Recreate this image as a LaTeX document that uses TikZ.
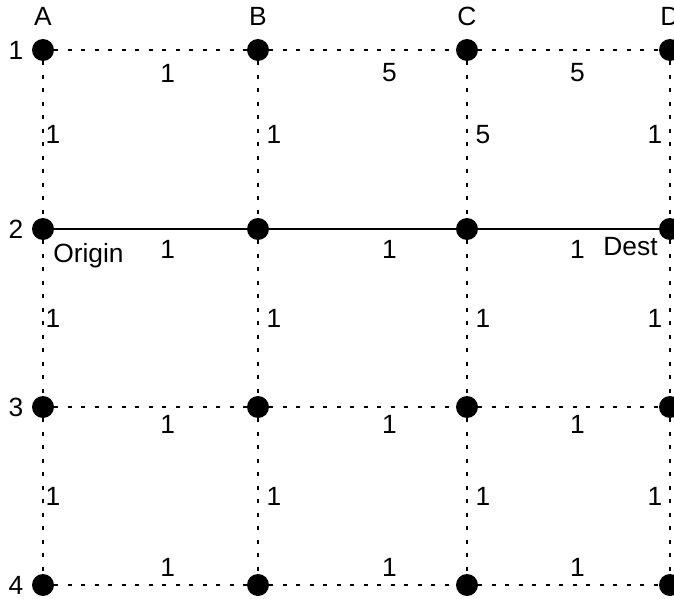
\documentclass[tikz,border=0pt]{standalone}
\usepackage{fontspec}
\setmainfont{Liberation Sans}
\usetikzlibrary{positioning}

\begin{document}
\begin{tikzpicture}[
        x=0.02cm, y=-0.02cm,
        dot/.style={circle, fill=black, inner sep=0pt, minimum size=0.44cm},
        lbl/.style={font=\fontsize{15}{17}\selectfont, inner sep=0pt},
        gridline/.style={line width=1.4pt, dash pattern=on 0.08cm off 0.19cm},
        route/.style={line width=1.3pt}
    ]
        \useasboundingbox (0,0) rectangle (674,599);
        % grid points
        \foreach \c/\x in {A/43, B/258, C/467, D/670}
            \foreach \r/\y in {1/50, 2/229, 3/407, 4/585}
                \node[dot] (\c\r) at (\x,\y) {};
        \foreach \c in {A, B, C, D}
            \node[lbl, above=0.26cm of \c1] (col\c) {\c};
        \foreach \r in {1, 2, 3, 4}
            \node[lbl, left=0.16cm of A\r] (row\r) {\r};
        % vertical edges
        \foreach \a/\b/\t/\s/\p in {A1/A2/1/0.2/.47, B1/B2/1/0.32/.47, C1/C2/5/0.32/.47, D1/D2/1/-0.3/.47,
                                    A2/A3/1/0.2/.5, B2/B3/1/0.32/.5, C2/C3/1/0.32/.5, D2/D3/1/-0.3/.5,
                                    A3/A4/1/0.2/.5, B3/B4/1/0.32/.5, C3/C4/1/0.32/.5, D3/D4/1/-0.3/.5}
            \draw[gridline] (\a) -- (\b) node[lbl, pos=\p, xshift=\s cm] {\t};
        % horizontal edges
        \foreach \a/\b/\t/\p in {A1/B1/1/.59, B1/C1/5/.645, C1/D1/5/.55}
            \draw[gridline] (\a) -- (\b) node[lbl, pos=\p, yshift=-0.46cm] {\t};
        \foreach \a/\b/\p in {A2/B2/.59, B2/C2/.645, C2/D2/.55}
            \draw[route] (\a) -- (\b) node[lbl, pos=\p, yshift=-0.4cm] {1};
        \foreach \a/\b/\p in {A3/B3/.59, B3/C3/.645, C3/D3/.55}
            \draw[gridline] (\a) -- (\b) node[lbl, pos=\p, yshift=-0.34cm] {1};
        \foreach \a/\b/\p in {A4/B4/.59, B4/C4/.645, C4/D4/.55}
            \draw[gridline] (\a) -- (\b) node[lbl, pos=\p, yshift=0.36cm] {1};
        % end points
        \node[lbl, anchor=west] (origin) at ([shift={(10,27)}]A2.center) {Origin};
        \node[lbl, anchor=east] (dest) at ([shift={(-12,18)}]D2.center) {Dest};
    \end{tikzpicture}
\end{document}
